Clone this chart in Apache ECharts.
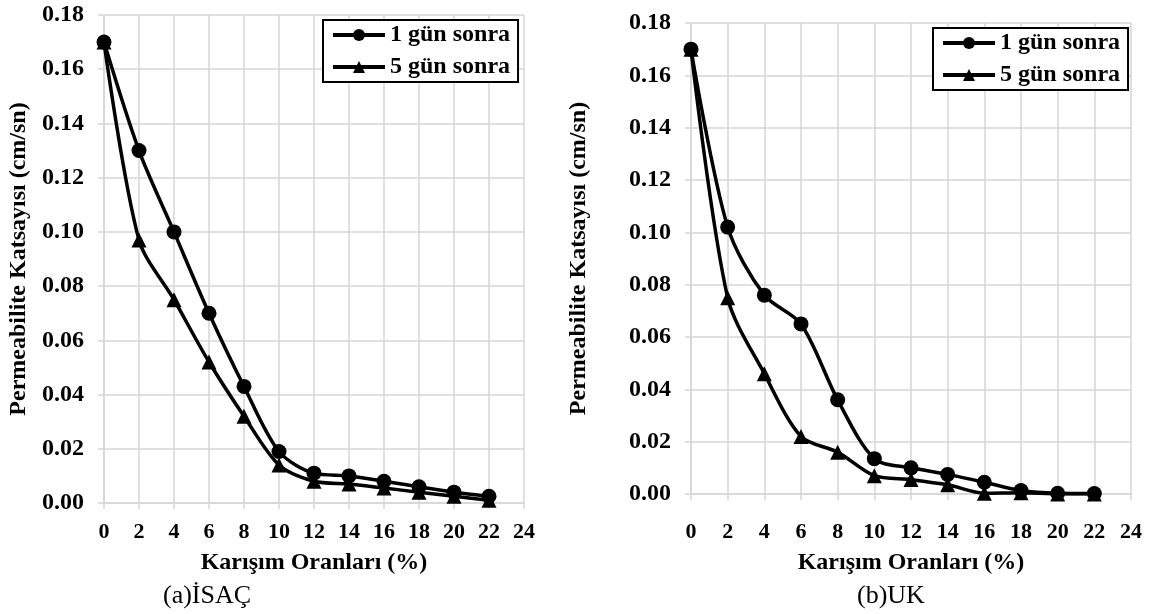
<!DOCTYPE html>
<html><head><meta charset="utf-8">
<script src="https://cdn.jsdelivr.net/npm/echarts@6/dist/echarts.min.js"></script>
<style>html,body{margin:0;padding:0;background:#fff}#c{width:1149px;height:614px}</style>
</head><body><div id="c"></div>
<script>
const xValues = [0, 2, 4, 6, 8, 10, 12, 14, 16, 18, 20, 22];
const isac1 = [0.170, 0.130, 0.100, 0.070, 0.043, 0.019, 0.011, 0.010, 0.008, 0.006, 0.004, 0.0025];
const isac5 = [0.170, 0.097, 0.075, 0.052, 0.032, 0.014, 0.008, 0.007, 0.0055, 0.004, 0.0025, 0.001];
const uk1 = [0.170, 0.102, 0.076, 0.065, 0.036, 0.0135, 0.010, 0.0075, 0.0045, 0.0013, 0.0003, 0.0002];
const uk5 = [0.170, 0.075, 0.046, 0.022, 0.016, 0.007, 0.0055, 0.0035, 0.0003, 0.0005, 0.0, 0.0];
const seriesNames = ['1 gün sonra', '5 gün sonra'];
const xTitle = 'Karışım Oranları (%)';
const yTitle = 'Permeabilite Katsayısı (cm/sn)';
const captions = ['(a)İSAÇ', '(b)UK'];

const FONT = '"Liberation Serif", "Times New Roman", serif';
const pair = (xs, ys) => xs.map((x, i) => [x, ys[i]]);
const gridGray = '#d6d6d6';

function xAxis(gi, margin, nameGap) {
  return {
    type: 'value', gridIndex: gi, min: 0, max: 24, interval: 2,
    name: xTitle, nameLocation: 'middle', nameGap,
    nameTextStyle: { fontFamily: FONT, fontWeight: 'bold', fontSize: 24, color: '#000' },
    axisLine: { show: true, onZero: false, lineStyle: { color: gridGray, width: 1.5 } },
    axisTick: { show: true, length: 6, lineStyle: { color: gridGray, width: 1.5 } },
    axisLabel: { fontFamily: FONT, fontWeight: 'bold', fontSize: 22, color: '#000', margin },
    splitLine: { show: true, lineStyle: { color: gridGray, width: 1.5 } }
  };
}
function yAxis(gi, nameGap) {
  return {
    type: 'value', gridIndex: gi, min: 0, max: 0.18, interval: 0.02,
    name: yTitle, nameLocation: 'middle', nameGap, nameRotate: 90,
    nameTextStyle: { fontFamily: FONT, fontWeight: 'bold', fontSize: 24, color: '#000' },
    axisLine: { show: true, lineStyle: { color: gridGray, width: 1.5 } },
    axisTick: { show: true, length: 6, lineStyle: { color: gridGray, width: 1.5 } },
    axisLabel: { fontFamily: FONT, fontWeight: 'bold', fontSize: 24, color: '#000', margin: 20,
      formatter: v => v.toFixed(2) },
    splitLine: { show: true, lineStyle: { color: gridGray, width: 1.5 } }
  };
}
function line(name, data, gi, symbol) {
  return {
    type: 'line', name, xAxisIndex: gi, yAxisIndex: gi, data,
    smooth: 0.3, symbol, symbolSize: 15,
    lineStyle: { color: '#000', width: 3.5 },
    itemStyle: { color: '#000' }, z: symbol === 'circle' ? 3 : 2
  };
}
function legend(left, top) {
  return {
    orient: 'vertical', left, top, data: seriesNames,
    backgroundColor: '#fff', borderColor: '#000', borderWidth: 2,
    padding: [2, 8, 2, 8], itemGap: 6, itemWidth: 52, itemHeight: 15,
    lineStyle: { width: 4 },
    textStyle: { fontFamily: FONT, fontWeight: 'bold', fontSize: 24, lineHeight: 26, color: '#000' },
    selectedMode: false
  };
}
const chart = echarts.init(document.getElementById('c'));
chart.setOption({
  animation: false,
  backgroundColor: '#fff',
  grid: [
    { left: 104, top: 15, width: 420, height: 488 },
    { left: 691, top: 23, width: 440, height: 471 }
  ],
  xAxis: [xAxis(0, 18, 48), xAxis(1, 27, 57)],
  yAxis: [yAxis(0, 73), yAxis(1, 100)],
  legend: [legend(323, 20), legend(933, 28)],
  title: [
    { text: captions[0], left: 163, top: 583, padding: 0, textStyle: { fontFamily: FONT, fontWeight: 'normal', fontSize: 26, color: '#000' } },
    { text: captions[1], left: 857, top: 583, padding: 0, textStyle: { fontFamily: FONT, fontWeight: 'normal', fontSize: 26, color: '#000' } }
  ],
  series: [
    line(seriesNames[0], pair(xValues, isac1), 0, 'circle'),
    line(seriesNames[1], pair(xValues, isac5), 0, 'triangle'),
    line(seriesNames[0], pair(xValues, uk1), 1, 'circle'),
    line(seriesNames[1], pair(xValues, uk5), 1, 'triangle')
  ]
});
</script></body></html>
